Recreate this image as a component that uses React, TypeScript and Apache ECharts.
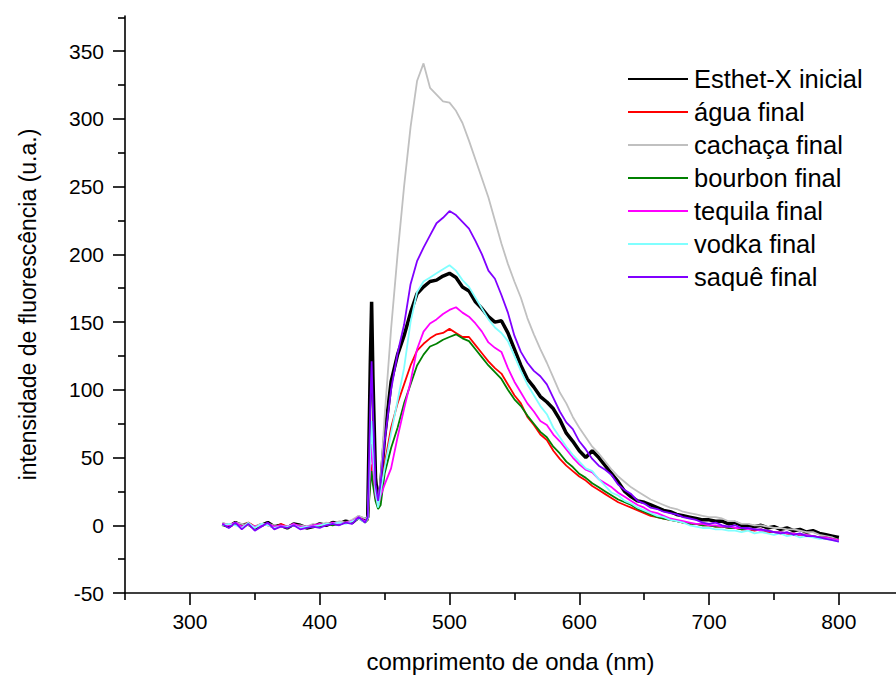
import React, { useEffect, useRef } from 'react';
import * as echarts from 'echarts';

const wavelengths = [
  325, 330, 335, 340, 345, 350, 355, 360, 365, 370, 375, 380, 385, 390, 395, 400, 405, 410, 415, 420, 425, 430, 435,
  437, 439, 440, 441, 443, 445, 447,
  450, 455, 460, 465, 470, 475, 480, 485, 490, 495,
  500, 505, 510, 515, 520, 525, 530, 535, 540, 545,
  550, 555, 560, 565, 570, 575, 580, 585, 590, 595,
  600, 605, 610, 615, 620, 625, 630, 635, 640, 645,
  650, 655, 660, 665, 670, 675, 680, 685, 690, 695,
  700, 705, 710, 715, 720, 725, 730, 735, 740, 745,
  750, 755, 760, 765, 770, 775, 780, 785, 790, 795,
  800,
];

const esthetInicial = [
  1, -1, 2, 0, 1, -2, 0, 2, -1, 0, -2, 1, 0, -2, -1, 1, 0, 2, 1, 3, 2, 6, 4,
  6, 120, 165, 110, 35, 16, 30,
  65, 106, 126, 140, 157, 171, 176, 180, 181, 184,
  186, 183, 176, 173, 165, 160, 154, 150, 151, 142,
  130, 118, 108, 102, 95, 91, 86, 78, 68, 62,
  55, 50, 55, 50, 44, 38, 32, 25, 21, 18,
  17, 15, 13, 11, 10, 8, 7, 6, 5, 4,
  4, 3, 3, 1, 2, 0, 0, -1, 0, -2,
  -1, -3, -2, -4, -3, -5, -4, -6, -7, -8,
  -9,
];

const aguaFinal = [
  0, 1, 1, -1, 2, -1, 1, 0, -2, 1, -1, 0, -1, -1, 0, 0, 1, 1, 2, 2, 3, 5, 3,
  4, 35, 45, 35, 20, 14, 22,
  45, 72, 90, 104, 118, 129, 134, 138, 141, 142,
  145, 142, 139, 139, 133, 127, 121, 116, 112, 104,
  96, 90, 80, 74, 67, 63, 55, 49, 44, 40,
  36, 33, 29, 26, 23, 20, 17, 15, 13, 11,
  9, 7, 6, 5, 4, 3, 2, 1, 1, 0,
  0, -1, -1, -2, -2, -3, -3, -4, -3, -5,
  -5, -6, -6, -7, -7, -8, -8, -9, -10, -10,
  -11,
];

const cachacaFinal = [
  2, 0, 2, 1, 0, -1, 1, 1, 0, -1, -1, 0, 0, -1, 1, 0, 2, 1, 3, 2, 4, 7, 5,
  6, 45, 58, 42, 24, 18, 35,
  80, 145, 200, 250, 294, 328, 341, 323, 318, 313,
  312, 306, 297, 284, 270, 256, 242, 225, 208, 193,
  180, 168, 153, 141, 130, 120, 109, 98, 90, 80,
  72, 65, 58, 53, 47, 41, 36, 32, 28, 25,
  22, 19, 17, 15, 13, 12, 10, 9, 8, 7,
  6, 6, 5, 3, 3, 1, 1, 0, 0, -1,
  -2, -2, -3, -3, -4, -5, -5, -7, -8, -9,
  -11,
];

const bourbonFinal = [
  0, 0, 1, -1, 1, -2, 0, 1, -1, 0, -2, 0, -1, -2, 0, -1, 1, 0, 1, 2, 2, 5, 2,
  4, 30, 40, 30, 18, 12, 15,
  38, 57, 72, 90, 104, 118, 126, 132, 134, 137,
  139, 141, 138, 136, 130, 124, 118, 113, 108, 100,
  93, 88, 81, 75, 69, 65, 58, 53, 47, 43,
  38, 35, 31, 28, 25, 22, 19, 17, 15, 12,
  10, 8, 6, 5, 4, 3, 2, 1, 1, 0,
  0, -1, -1, -2, -2, -3, -3, -3, -4, -4,
  -5, -5, -6, -6, -7, -7, -8, -9, -9, -10,
  -11,
];

const tequilaFinal = [
  1, 0, 2, -1, 1, -1, 0, 1, -1, 0, -1, 1, -1, -1, 0, 1, 0, 2, 1, 2, 3, 6, 3,
  5, 45, 60, 45, 22, 15, 22,
  30, 42, 65, 86, 106, 130, 143, 149, 152, 156,
  159, 161, 157, 154, 149, 143, 135, 131, 128, 116,
  106, 98, 90, 84, 77, 74, 67, 62, 56, 50,
  45, 41, 39, 34, 31, 28, 24, 21, 18, 15,
  13, 10, 9, 7, 5, 4, 3, 2, 1, 1,
  0, 0, -1, -1, -2, -2, -3, -3, -4, -4,
  -5, -5, -6, -6, -7, -7, -8, -9, -9, -10,
  -11,
];

const vodkaFinal = [
  0, 1, 0, -2, 2, -2, 1, 0, -2, -1, -1, 0, -2, -1, -1, 0, 1, 1, 2, 1, 3, 5, 2,
  5, 55, 77, 55, 25, 13, 25,
  42, 68, 92, 116, 150, 172, 180, 183, 186, 189,
  192, 188, 181, 176, 168, 160, 152, 146, 142, 136,
  125, 114, 104, 96, 88, 82, 72, 65, 58, 52,
  47, 42, 40, 34, 29, 24, 22, 18, 16, 13,
  11, 9, 7, 6, 4, 3, 2, 0, -1, -2,
  -2, -3, -3, -4, -4, -5, -4, -6, -5, -6,
  -7, -6, -8, -7, -9, -8, -9, -10, -10, -11,
  -12,
];

const saqueFinal = [
  1, -2, 2, -3, 1, -4, -1, 2, -3, -1, -2, 0, -3, -2, -1, -2, 0, 1, 0, 2, 1, 6, 2,
  6, 90, 121, 85, 30, 18, 32,
  62, 100, 127, 148, 178, 195, 205, 214, 223, 227,
  232, 229, 224, 219, 210, 200, 188, 182, 170, 157,
  140, 128, 120, 114, 110, 104, 94, 84, 76, 71,
  62, 56, 49, 44, 41, 37, 30, 26, 23, 18,
  16, 13, 12, 10, 9, 8, 6, 5, 4, 2,
  1, 2, 0, -1, 0, -2, -2, -3, -3, -4,
  -5, -6, -5, -7, -6, -8, -8, -9, -10, -11,
  -12,
];

const seriesNames = [
  'Esthet-X inicial',
  'água final',
  'cachaça final',
  'bourbon final',
  'tequila final',
  'vodka final',
  'saquê final',
];
const seriesValues = [esthetInicial, aguaFinal, cachacaFinal, bourbonFinal, tequilaFinal, vodkaFinal, saqueFinal];
const seriesColors = ['#000000', '#ff0000', '#c0c0c0', '#008000', '#ff00ff', '#80ffff', '#8000ff'];
const seriesWidths = [3.5, 1.8, 1.8, 1.8, 1.8, 1.8, 1.8];

const xMajorTicks = [300, 400, 500, 600, 700, 800];
const xMinorTicks = [250, 350, 450, 550, 650, 750];
const yMajorTicks = [-50, 0, 50, 100, 150, 200, 250, 300, 350];
const yMinorTicks = [-25, 25, 75, 125, 175, 225, 275, 325, 375];

const FONT = 'Liberation Sans, Arial, sans-serif';

export default function App() {
  const ref = useRef<HTMLDivElement>(null);

  useEffect(() => {
    const chart = echarts.init(ref.current!, null, { renderer: 'svg' });
    const axisColor = '#000';
    chart.setOption({
      animation: false,
      backgroundColor: '#fff',
      grid: { left: 125, top: 16, bottom: 85, right: 0, outerBoundsMode: 'none', containLabel: false },
      legend: {
        orient: 'vertical',
        left: 627,
        top: 66,
        padding: 0,
        itemWidth: 60,
        itemHeight: 26,
        itemGap: 7,
        itemStyle: { opacity: 0 },
        textStyle: {
          fontFamily: FONT,
          fontSize: 25.5,
          color: '#000',
          lineHeight: 26,
          padding: [0, 0, 0, 1],
        },
        data: seriesNames,
      },
      xAxis: [
        {
          type: 'value',
          min: 250,
          max: 844,
          position: 'bottom',
          name: 'comprimento de onda (nm)',
          nameLocation: 'middle',
          nameGap: 56,
          nameTextStyle: { fontFamily: FONT, fontSize: 24, color: '#000' },
          axisLine: { show: true, onZero: false, lineStyle: { color: axisColor, width: 1.6 } },
          axisTick: {
            show: true,
            inside: false,
            length: 12,
            customValues: xMajorTicks,
            lineStyle: { color: axisColor, width: 1.6 },
          },
          axisLabel: {
            show: true,
            margin: 18,
            customValues: xMajorTicks,
            fontFamily: FONT,
            fontSize: 21,
            color: '#000',
          },
          splitLine: { show: false },
        },
        {
          type: 'value',
          min: 250,
          max: 844,
          position: 'bottom',
          axisLine: { show: false, onZero: false },
          axisTick: {
            show: true,
            length: 7,
            customValues: xMinorTicks,
            lineStyle: { color: axisColor, width: 1.6 },
          },
          axisLabel: { show: false },
          splitLine: { show: false },
        },
      ],
      yAxis: [
        {
          type: 'value',
          min: -50,
          max: 376,
          position: 'left',
          name: 'intensidade de fluorescência (u.a.)',
          nameLocation: 'middle',
          nameGap: 86,
          nameRotate: 90,
          nameTextStyle: { fontFamily: FONT, fontSize: 23, color: '#000' },
          axisLine: { show: true, onZero: false, lineStyle: { color: axisColor, width: 1.6 } },
          axisTick: {
            show: true,
            length: 12,
            customValues: yMajorTicks,
            lineStyle: { color: axisColor, width: 1.6 },
          },
          axisLabel: {
            show: true,
            margin: 21,
            customValues: yMajorTicks,
            fontFamily: FONT,
            fontSize: 21,
            color: '#000',
          },
          splitLine: { show: false },
        },
        {
          type: 'value',
          min: -50,
          max: 376,
          position: 'left',
          axisLine: { show: false, onZero: false },
          axisTick: {
            show: true,
            length: 7,
            customValues: yMinorTicks,
            lineStyle: { color: axisColor, width: 1.6 },
          },
          axisLabel: { show: false },
          splitLine: { show: false },
        },
      ],
      series: seriesNames.map((name, k) => ({
        name,
        type: 'line',
        xAxisIndex: 0,
        yAxisIndex: 0,
        symbol: 'none',
        showSymbol: false,
        smooth: false,
        color: seriesColors[k],
        lineStyle: { color: seriesColors[k], width: seriesWidths[k] },
        data: wavelengths.map((w, i) => [w, seriesValues[k][i]]),
        z: 2 + k,
      })),
    });
    return () => chart.dispose();
  }, []);

  return (
    <div
      ref={ref}
      style={{ position: 'fixed', left: 0, top: 0, width: 896, height: 678, background: '#fff' }}
    />
  );
}
